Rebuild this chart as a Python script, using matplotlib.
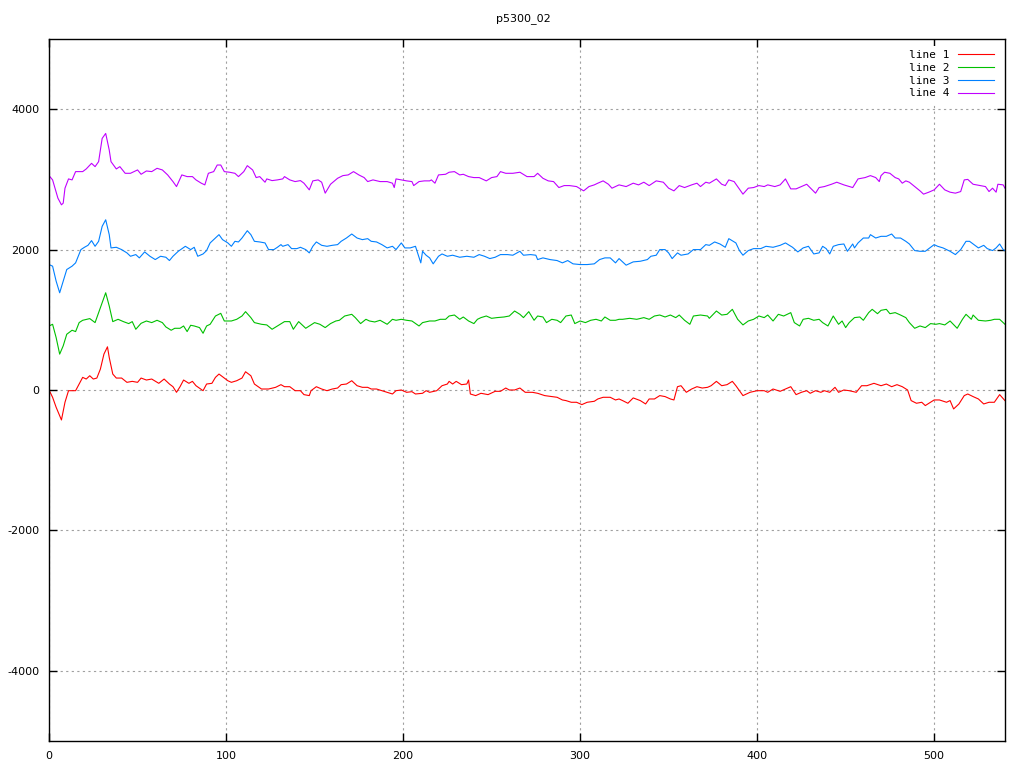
import matplotlib
matplotlib.use("Agg")
import matplotlib.pyplot as plt

plt.rcParams['axes.unicode_minus'] = False
plt.rcParams['font.family'] = ['DejaVu Sans']

title = "p5300_02"
labels = ["line 1", "line 2", "line 3", "line 4"]
colors = ["#ff0000", "#00c000", "#0080ff", "#c000ff"]

x1 = [0, 2, 4, 7, 9, 11, 15, 17, 19, 21, 23, 25, 27, 29, 31, 33, 34, 36, 38, 41, 44, 47, 50, 52, 55, 58, 62, 65, 68, 70, 72, 74, 76, 79, 81, 83, 87, 89, 92, 94, 96, 98, 101, 103, 106,
      109, 111, 114, 116, 120, 124, 128, 131, 133, 136, 139, 142, 144, 147, 148, 151, 154, 157, 160, 163, 165, 168, 171, 174, 177, 180, 182, 185, 188, 191, 194, 196, 199, 202, 205, 207, 211, 213,
      215, 219, 222, 225, 226, 228, 230, 233, 236, 237, 238, 241, 244, 248, 252, 255, 258, 260, 263, 266, 269, 273, 276, 280, 284, 287, 290, 292, 295, 298, 301, 304, 308, 310, 313, 317, 320, 322,
      324, 327, 330, 334, 337, 339, 342, 345, 348, 351, 353, 355, 357, 360, 363, 366, 369, 372, 374, 377, 380, 383, 386, 388, 392, 396, 400, 404, 406, 409, 413, 416, 419, 422, 425, 428,
      430, 433, 436, 438, 441, 444, 446, 449, 452, 456, 459, 462, 466, 470, 473, 476, 479, 482, 485, 487, 490, 493, 495, 498, 500, 503, 507, 509, 511, 514, 517, 519, 522, 525, 528, 531, 534, 537, 540]
y1 = [0, -104, -246, -427, -175, -10, -10, 85, 180, 156, 203, 156, 170, 298, 511, 615, 463, 227, 170, 170, 109, 123, 109, 170, 142, 156, 95, 156, 85, 47, -33, 47, 142, 95, 123, 61, -10, 85, 95, 180, 227, 189, 132, 109, 132,
      170, 260, 203, 85, 14, 14, 38, 76, 47, 47, -10, -10, -66, -80, -10, 47, 14, -10, 14, 28, 76, 85, 132, 61, 38, 38, 14, 14, -10, -33, -57, -10, 0, -33, -24, -57, -47, -10,
      -33, -10, 61, 85, 123, 85, 123, 76, 85, 142, -57, -80, -47, -66, -19, -19, 28, 0, 0, 28, -33, -33, -47, -80, -94, -104, -142, -151, -175, -175, -208, -175, -161, -128, -104, -104, -142, -128,
      -151, -189, -113, -151, -199, -128, -128, -80, -94, -128, -142, 47, 61, -33, 14, 47, 28, 38, 61, 123, 61, 76, 123, 61, -80, -33, -10, -10, -33, 14, -19, 14, 47, -66, -33, -10,
      -47, -10, -33, -10, -33, 38, -33, 0, -10, -33, 61, 61, 95, 61, 85, 47, 76, 47, 0, -151, -189, -175, -222, -175, -142, -142, -175, -151, -270, -199, -80, -57, -94, -128, -199, -175, -175, -66, -151]

x2 = [0, 2, 4, 6, 8, 10, 13, 15, 17, 19, 23, 26, 29, 31, 32, 34, 36, 39, 42, 45, 47, 49, 52, 55, 58, 61, 64, 66, 69, 71, 74, 76, 78, 80, 82, 85, 87, 89, 91, 94, 97, 99, 103, 106,
      109, 111, 114, 116, 120, 123, 126, 130, 133, 136, 138, 141, 145, 147, 150, 153, 156, 159, 162, 164, 167, 171, 173, 176, 179, 181, 184, 187, 191, 194, 196, 199, 202, 205, 209, 211, 215,
      218, 221, 224, 226, 229, 232, 234, 237, 240, 242, 244, 247, 250, 253, 257, 260, 263, 266, 268, 271, 274, 276, 279, 281, 284, 287, 289, 292, 295, 297, 300, 303, 306, 309, 312, 314, 317, 320, 322,
      324, 328, 332, 336, 339, 342, 345, 348, 351, 354, 356, 359, 362, 364, 368, 372, 373, 377, 380, 383, 386, 389, 392, 395, 398, 401, 404, 406, 409, 412, 415, 419, 421, 424, 426, 429,
      432, 435, 437, 440, 443, 446, 448, 450, 452, 455, 458, 460, 463, 465, 468, 470, 473, 475, 478, 481, 484, 486, 489, 492, 495, 498, 501, 503, 506, 509, 513, 516, 518, 521, 522, 525, 529, 532, 534, 537, 540]
y2 = [912, 936, 747, 511, 629, 794, 851, 832, 960, 993, 1017, 960, 1173, 1314, 1385, 1196, 974, 1007, 974, 946, 974, 865, 950, 983, 960, 993, 960, 898, 851, 879, 879, 912, 832, 922, 912, 889, 808, 912, 936, 1054, 1092, 983, 983, 1007,
      1054, 1116, 1031, 960, 936, 927, 865, 927, 974, 974, 865, 974, 879, 912, 960, 936, 889, 946, 983, 993, 1054, 1078, 1031, 946, 1007, 983, 969, 993, 936, 1007, 993, 1007, 993, 983, 912, 960, 983,
      983, 1007, 1007, 1054, 1068, 1007, 1040, 983, 946, 1007, 1031, 1054, 1021, 1031, 1040, 1054, 1125, 1078, 1031, 1116, 993, 1054, 1040, 960, 1007, 993, 960, 1054, 1068, 946, 983, 960, 993, 1007, 983, 1040, 993, 993, 1007,
      1007, 1021, 1007, 1031, 1007, 1054, 1068, 1040, 1068, 1031, 1068, 993, 936, 1054, 1068, 1054, 1021, 1125, 1068, 1078, 1149, 1007, 927, 983, 1007, 1054, 1031, 1068, 983, 1078, 1054, 1102, 960, 912, 1007, 1021,
      993, 1007, 960, 912, 1054, 936, 983, 889, 960, 1031, 1040, 993, 1102, 1149, 1087, 1135, 1149, 1087, 1102, 1068, 1031, 960, 879, 912, 889, 946, 936, 946, 927, 983, 879, 1007, 1078, 1007, 1068, 993, 983, 993, 1007, 1007, 936]

x3 = [0, 2, 4, 6, 8, 10, 13, 15, 18, 20, 22, 24, 26, 28, 30, 32, 34, 35, 38, 41, 44, 46, 49, 51, 54, 57, 60, 63, 66, 68, 70, 73, 77, 80, 82, 84, 87, 89, 91, 94, 96, 98, 101, 103, 105, 107,
      109, 112, 114, 116, 119, 122, 124, 127, 129, 131, 132, 135, 137, 140, 142, 145, 147, 149, 151, 154, 157, 160, 163, 165, 168, 171, 174, 177, 180, 182, 185, 188, 191, 194, 196, 199, 201, 204, 207, 210, 211, 213, 215,
      217, 220, 222, 225, 228, 232, 236, 240, 243, 246, 249, 252, 255, 259, 262, 266, 268, 272, 275, 276, 279, 283, 287, 290, 293, 296, 300, 304, 308, 311, 314, 317, 320, 322,
      326, 330, 334, 338, 340, 343, 345, 348, 350, 352, 355, 357, 361, 364, 368, 371, 373, 376, 379, 382, 384, 388, 390, 392, 395, 398, 402, 405, 409, 413, 416, 420, 423, 426, 429,
      432, 435, 437, 439, 441, 443, 446, 449, 451, 454, 455, 457, 460, 463, 464, 467, 470, 473, 476, 478, 481, 484, 486, 489, 492, 495, 497, 500, 502, 505, 509, 512, 515, 518, 520, 523, 525, 528, 530, 533, 535, 537, 539, 540]
y3 = [1787, 1764, 1551, 1385, 1551, 1716, 1764, 1811, 2000, 2033, 2061, 2128, 2047, 2118, 2331, 2425, 2213, 2024, 2033, 2000, 1953, 1905, 1929, 1882, 1967, 1905, 1858, 1905, 1891, 1844, 1905, 1976, 2047, 2000, 2033, 1905, 1938, 1986, 2095, 2165, 2213, 2142, 2095, 2047, 2118, 2109,
      2165, 2269, 2213, 2118, 2109, 2095, 2000, 2000, 2033, 2071, 2047, 2071, 2014, 2014, 2033, 2000, 1953, 2047, 2109, 2061, 2047, 2061, 2071, 2118, 2165, 2222, 2165, 2142, 2156, 2118, 2109, 2071, 2024, 2047, 2000, 2095, 2024, 2024, 2047, 1811, 1976, 1920, 1882,
      1797, 1905, 1938, 1905, 1920, 1891, 1905, 1891, 1929, 1905, 1872, 1891, 1929, 1929, 1920, 1976, 1920, 1929, 1920, 1858, 1882, 1858, 1844, 1811, 1844, 1797, 1787, 1787, 1797, 1858, 1882, 1882, 1811, 1872,
      1778, 1825, 1834, 1858, 1905, 1920, 2000, 2000, 1953, 1872, 1953, 1920, 1938, 2000, 2000, 2071, 2061, 2109, 2080, 2033, 2156, 2095, 1986, 1920, 1986, 2014, 2014, 2047, 2033, 2061, 2095, 2033, 1967, 2024, 2047,
      1938, 1953, 2047, 2014, 1938, 2047, 2071, 2080, 1976, 2080, 2024, 2095, 2165, 2165, 2213, 2165, 2189, 2189, 2222, 2165, 2165, 2118, 2080, 1986, 1976, 1976, 2014, 2071, 2047, 2024, 1976, 1929, 2000, 2118, 2118, 2061, 2024, 2061, 2014, 1986, 2024, 2080, 2000, 1986]

x4 = [0, 2, 5, 7, 8, 9, 11, 13, 15, 19, 21, 24, 26, 28, 30, 32, 34, 35, 38, 40, 43, 46, 50, 52, 55, 58, 61, 64, 67, 70, 72, 75, 78, 81, 83, 86, 88, 90, 93, 95, 97, 99, 102, 105, 107,
      110, 112, 115, 117, 119, 122, 123, 126, 129, 132, 133, 136, 139, 142, 144, 147, 149, 152, 154, 156, 159, 163, 166, 169, 172, 175, 178, 180, 183, 187, 191, 194, 195, 196, 199, 202, 205, 206, 209, 212, 215,
      216, 218, 220, 224, 226, 229, 232, 234, 237, 240, 243, 247, 250, 253, 255, 258, 262, 266, 270, 274, 276, 279, 282, 285, 288, 291, 294, 298, 302, 305, 308, 310, 313, 316, 318, 322,
      326, 330, 333, 336, 339, 343, 347, 350, 353, 356, 359, 363, 366, 368, 371, 373, 377, 380, 382, 384, 387, 389, 392, 395, 398, 401, 404, 406, 410, 413, 416, 419, 422, 425, 428,
      433, 435, 438, 442, 445, 449, 454, 457, 461, 464, 467, 469, 470, 472, 475, 478, 480, 482, 484, 486, 489, 492, 494, 497, 500, 503, 506, 509, 512, 515, 517, 519, 522, 526, 529, 531, 533, 535, 536, 539, 540]
y4 = [3054, 2993, 2733, 2638, 2662, 2875, 3007, 2993, 3111, 3111, 3149, 3229, 3182, 3253, 3584, 3655, 3418, 3253, 3149, 3182, 3087, 3087, 3135, 3073, 3120, 3111, 3158, 3135, 3064, 2969, 2898, 3064, 3040, 3040, 2993, 2946, 2922, 3087, 3111, 3205, 3205, 3111, 3102, 3087, 3040,
      3111, 3196, 3135, 3026, 3040, 2960, 3007, 2983, 2993, 3007, 3040, 2993, 2969, 2983, 2946, 2851, 2979, 2993, 2960, 2804, 2931, 3016, 3054, 3064, 3111, 3064, 3026, 2969, 2993, 2969, 2969, 2946, 2884, 3007, 2993, 2979, 2969, 2912, 2969, 2979, 2979,
      2993, 2946, 3064, 3073, 3102, 3111, 3064, 3073, 3040, 3026, 3026, 2979, 3026, 3040, 3111, 3087, 3087, 3102, 3040, 3040, 3087, 3016, 2979, 2969, 2884, 2912, 2912, 2898, 2837, 2898, 2922, 2946, 2979, 2931, 2875, 2922,
      2898, 2946, 2922, 2960, 2912, 2979, 2960, 2875, 2837, 2912, 2884, 2922, 2946, 2898, 2960, 2946, 3007, 2931, 2912, 2993, 2969, 2898, 2790, 2875, 2884, 2912, 2898, 2922, 2898, 2922, 3007, 2865, 2865, 2898, 2931,
      2804, 2884, 2898, 2931, 2960, 2922, 2884, 3007, 3026, 3054, 3026, 2969, 3054, 3102, 3087, 3026, 3007, 2946, 2979, 2960, 2898, 2837, 2790, 2818, 2851, 2931, 2851, 2818, 2804, 2827, 2993, 3000, 2931, 2912, 2898, 2827, 2875, 2818, 2931, 2922, 2875]

xticks = [0, 100, 200, 300, 400, 500]
yticks = [-4000, -2000, 0, 2000, 4000]

fig = plt.figure(figsize=(10.24, 7.68), dpi=100)
ax = fig.add_axes([0.0479, 0.0352, 0.9335, 0.914])

for xs, ys, lab, c in zip([x1, x2, x3, x4], [y1, y2, y3, y4], labels, colors):
    ax.plot(xs, ys, color=c, lw=0.8, label=lab)

ax.set_xlim(0, 540)
ax.set_ylim(-5000, 5000)
ax.set_xticks(xticks)
ax.set_yticks(yticks)
ax.tick_params(direction='in', length=6, width=1, top=True, right=True, labelsize=8, pad=7)
ax.grid(True, color='#a0a0a0', linestyle=(0, (2, 3)), linewidth=0.8)
for s in ax.spines.values():
    s.set_linewidth(1.0)

fig.text(0.511, 0.976, title, ha='center', va='center', fontsize=8)

leg = ax.legend(loc='upper right', markerfirst=False, frameon=True,
                prop={'family': 'DejaVu Sans Mono', 'size': 8},
                handlelength=3.2, handletextpad=0.8, labelspacing=0.25,
                borderaxespad=0.6, fancybox=False)
leg.get_frame().set_edgecolor('none')
leg.get_frame().set_facecolor('white')
leg.get_frame().set_alpha(1)

fig.savefig("out.png", dpi=100)
